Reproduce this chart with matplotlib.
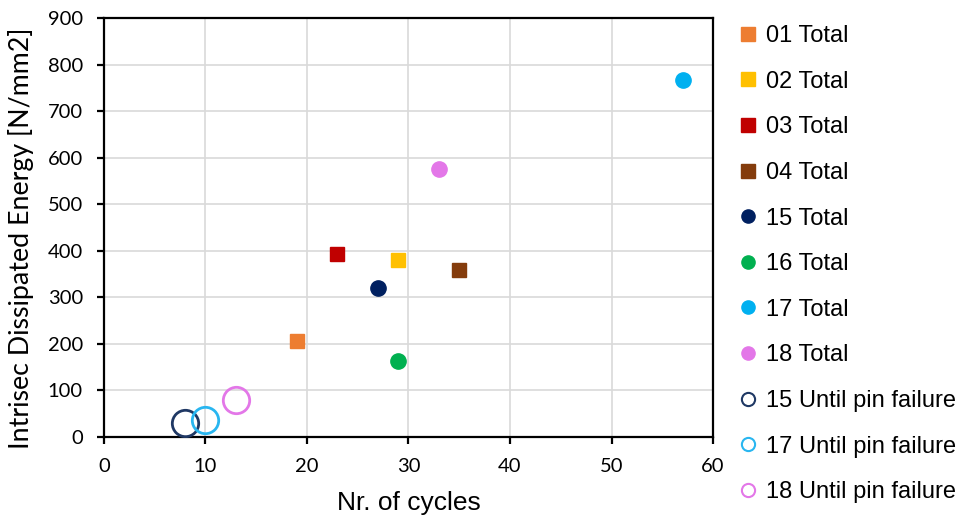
import matplotlib
matplotlib.use("Agg")
import matplotlib.pyplot as plt

# series data
labels = ["01 Total", "02 Total", "03 Total", "04 Total",
          "15 Total", "16 Total", "17 Total", "18 Total",
          "15 Until pin failure", "17 Until pin failure", "18 Until pin failure"]
cycles = [19, 29, 23, 35, 27, 29, 57, 33, 8, 10, 13]
energy = [205, 380, 392, 358, 321, 163, 766, 575, 30, 37, 80]
colors = ["#ED7D31", "#FFC000", "#C00000", "#843C0C",
          "#002060", "#00B050", "#00B0F0", "#E377E8",
          "#1F3864", "#29B6F0", "#E377E8"]
kinds = ["sq", "sq", "sq", "sq", "dot", "dot", "dot", "dot", "ring", "ring", "ring"]

plt.rcParams['font.family'] = ['Lato', 'DejaVu Sans']

fig = plt.figure(figsize=(9.61, 5.22), dpi=100)
ax = fig.add_axes([0.108, 0.163, 0.634, 0.8025])

for x, y, c, k, lab in zip(cycles, energy, colors, kinds, labels):
    if k == "sq":
        ax.plot([x], [y], linestyle='none', marker='s', ms=10.5, color=c, label=lab, zorder=3)
    elif k == "dot":
        ax.plot([x], [y], linestyle='none', marker='o', ms=11, color=c, label=lab, zorder=3)
    else:
        ax.plot([x], [y], linestyle='none', marker='o', ms=19, mfc='none', mec=c, mew=2,
                label=lab, zorder=3)

ax.set_xlim(0, 60)
ax.set_ylim(0, 900)
ax.set_xticks(range(0, 61, 10))
ax.set_yticks(range(0, 901, 100))
ax.grid(True, color='#d9d9d9', linewidth=1.2)
ax.set_axisbelow(True)
for s in ax.spines.values():
    s.set_linewidth(1.6)
    s.set_color('black')
ax.tick_params(direction='out', length=5, width=1.6, labelsize=14.5)
ax.tick_params(axis='x', pad=10)
ax.tick_params(axis='y', pad=10)

ax.set_xlabel("Nr. of cycles", fontsize=19, family=['Liberation Sans'], labelpad=12)
ax.set_ylabel("Intrisec Dissipated Energy [N/mm2]", fontsize=19.3, labelpad=10)
ax.yaxis.label.set_y(0.473)

leg = ax.legend(loc='upper left', bbox_to_anchor=(0.771, 0.952), bbox_transform=fig.transFigure,
                frameon=False, prop={'family': 'Liberation Sans', 'size': 17},
                labelspacing=1.0, handlelength=0.6, handletextpad=0.45,
                borderaxespad=0, borderpad=0)
for h, k in zip(leg.legend_handles, kinds):
    if k == "sq":
        h.set_markersize(10)
    elif k == "dot":
        h.set_markersize(9.5)
    else:
        h.set_markersize(9.5)
        h.set_markeredgewidth(1.5)

fig.savefig("out.png", dpi=100)
